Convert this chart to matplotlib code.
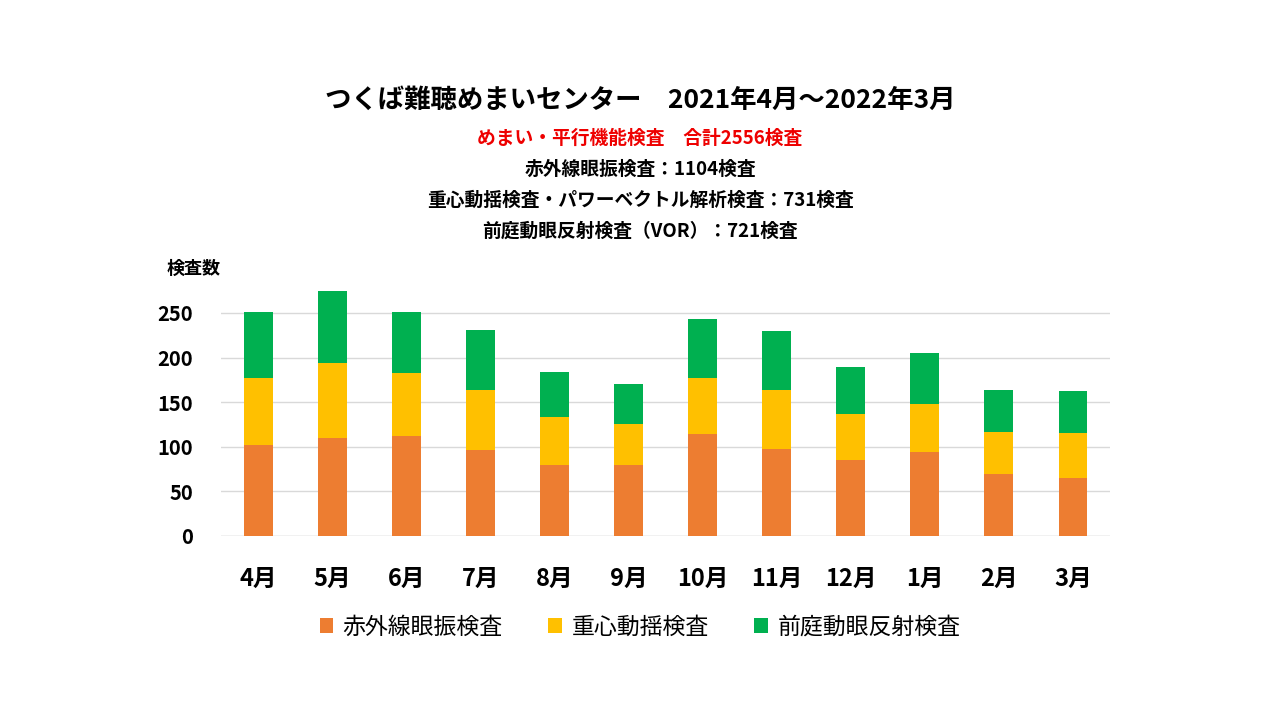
import matplotlib.pyplot as plt

plt.rcParams['font.family'] = ['Noto Sans CJK JP', 'DejaVu Sans']

months = ["4月", "5月", "6月", "7月", "8月", "9月", "10月", "11月", "12月", "1月", "2月", "3月"]
series_names = ["赤外線眼振検査", "重心動揺検査", "前庭動眼反射検査"]
infrared = [102, 110, 112, 96, 79, 80, 114, 98, 85, 94, 69, 65]
balance = [75, 84, 71, 68, 54, 46, 63, 66, 52, 54, 48, 50]
vor = [74, 81, 68, 67, 51, 44, 66, 66, 52, 57, 47, 48]
colors = ["#ED7D31", "#FFC000", "#00B050"]

fig = plt.figure(figsize=(12.8, 7.2), dpi=100)
ax = fig.add_axes([0.1727, 0.2556, 0.6945, 0.3593])

x = range(len(months))
w = 0.39
ax.bar(x, infrared, w, color=colors[0], label=series_names[0], zorder=3)
bottom2 = [a for a in infrared]
ax.bar(x, balance, w, bottom=bottom2, color=colors[1], label=series_names[1], zorder=3)
bottom3 = [a + b for a, b in zip(infrared, balance)]
ax.bar(x, vor, w, bottom=bottom3, color=colors[2], label=series_names[2], zorder=3)

ax.set_xlim(-0.5, len(months) - 0.5)
ax.set_ylim(0, 290)
ax.set_yticks([0, 50, 100, 150, 200, 250])
ax.yaxis.grid(True, color="#D9D9D9", linewidth=1, zorder=0)
for s in ax.spines.values():
    s.set_visible(False)
ax.axhline(0, color="#D9D9D9", linewidth=1, zorder=1)
ax.tick_params(axis='both', length=0)
ax.set_xticks(list(x))
ax.set_xticklabels(months, fontsize=17, fontweight='bold')
ax.tick_params(axis='x', pad=22)
ax.tick_params(axis='y', pad=20)
for lab in ax.get_yticklabels():
    lab.set_fontsize(14.5)
    lab.set_fontweight('bold')

fig.text(0.5, 0.861, "つくば難聴めまいセンター　2021年4月～2022年3月", ha='center', va='center',
         fontsize=19, fontweight='bold')
fig.text(0.5, 0.808, "めまい・平行機能検査　合計2556検査", ha='center', va='center',
         fontsize=13.5, fontweight='bold', color='#EE0000')
fig.text(0.5, 0.765, "赤外線眼振検査：1104検査", ha='center', va='center', fontsize=13.5, fontweight='bold')
fig.text(0.5, 0.722, "重心動揺検査・パワーベクトル解析検査：731検査", ha='center', va='center',
         fontsize=13.5, fontweight='bold')
fig.text(0.5, 0.679, "前庭動眼反射検査（VOR）：721検査", ha='center', va='center', fontsize=13.5, fontweight='bold')
fig.text(0.151, 0.627, "検査数", ha='center', va='center', fontsize=13, fontweight='bold')

leg = fig.legend(loc='center', bbox_to_anchor=(0.5, 0.129), ncol=3, frameon=False,
                 fontsize=16.5, handlelength=0.6, handleheight=0.6, columnspacing=2.0, handletextpad=0.4)

fig.savefig("out.png", dpi=100)
